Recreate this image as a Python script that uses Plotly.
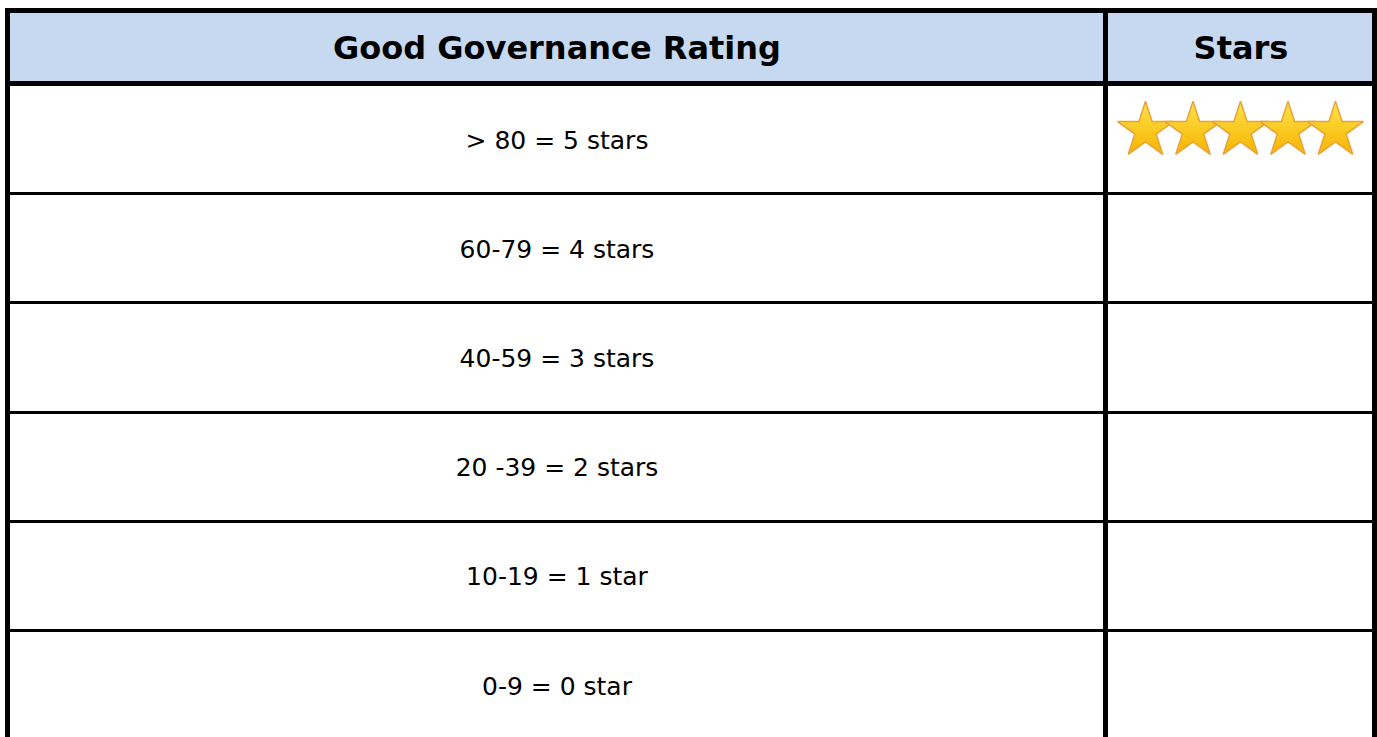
import plotly.graph_objects as go

# ---- data ----
header_labels = ["Good Governance Rating", "Stars"]
rating_labels = [
    "> 80 = 5 stars",
    "60-79 = 4 stars",
    "40-59 = 3 stars",
    "20 -39 = 2 stars",
    "10-19 = 1 star",
    "0-9 = 0 star",
]
stars_shown = [5, 0, 0, 0, 0, 0]

# ---- layout constants (sizes in pixel-like axis units) ----
COL_WIDTHS = [1098, 269]
HEADER_H = 75
ROW_H = 109.2
PLOT_H = 727
HEADER_BG = "#C6D9F1"
STAR_SPACING = 47.5
STAR_LIFT = 9

col_edges = [0, COL_WIDTHS[0], COL_WIDTHS[0] + COL_WIDTHS[1]]
body_edges = [HEADER_H + ROW_H * k for k in range(len(rating_labels) + 1)]

fig = go.Figure()

fig.add_trace(go.Heatmap(
    x=col_edges, y=[0, HEADER_H], z=[[1, 1]], zmin=0, zmax=1,
    text=[header_labels], texttemplate="%{text}",
    textfont=dict(family="DejaVu Sans", size=32, color="black", weight="bold"),
    colorscale=[[0, HEADER_BG], [1, HEADER_BG]], showscale=False,
    xgap=5, ygap=7, hoverinfo="skip",
))

fig.add_trace(go.Heatmap(
    x=col_edges, y=body_edges, z=[[0, 0] for _ in rating_labels], zmin=0, zmax=1,
    text=[[lab, ""] for lab in rating_labels], texttemplate="%{text}",
    textfont=dict(family="DejaVu Sans", size=25, color="black"),
    colorscale=[[0, "white"], [1, "white"]], showscale=False,
    xgap=5, ygap=3, hoverinfo="skip",
))

# stars
col2_center = (col_edges[1] + col_edges[2]) / 2
sx, sy = [], []
for r, n in enumerate(stars_shown):
    yc = (body_edges[r] + body_edges[r + 1]) / 2 - STAR_LIFT
    for i in range(n):
        sx.append(col2_center + (i - (n - 1) / 2) * STAR_SPACING)
        sy.append(yc)

fig.add_trace(go.Scatter(
    x=sx, y=sy, mode="markers",
    marker=dict(symbol="star", size=42, color="#FFE24A",
                gradient=dict(type="vertical", color="#F6B400"),
                line=dict(color="#E9A23B", width=1.5)),
    hoverinfo="skip", showlegend=False,
))

fig.update_xaxes(range=[col_edges[0], col_edges[-1]], side="top", showline=True,
                 linecolor="black", linewidth=2, mirror=False, showgrid=False,
                 zeroline=False, showticklabels=False, ticks="", fixedrange=True)
fig.update_yaxes(range=[PLOT_H, 0], showline=True, linecolor="black", linewidth=3,
                 mirror=True, showgrid=False, zeroline=False, showticklabels=False,
                 ticks="", fixedrange=True)

fig.update_layout(
    width=1377, height=737,
    margin=dict(l=8, r=2, t=10, b=0, pad=0),
    paper_bgcolor="white", plot_bgcolor="black",
    showlegend=False,
)

fig.write_html("out.html", config={"displayModeBar": False},
               post_script="document.body.style.margin='0px';")
